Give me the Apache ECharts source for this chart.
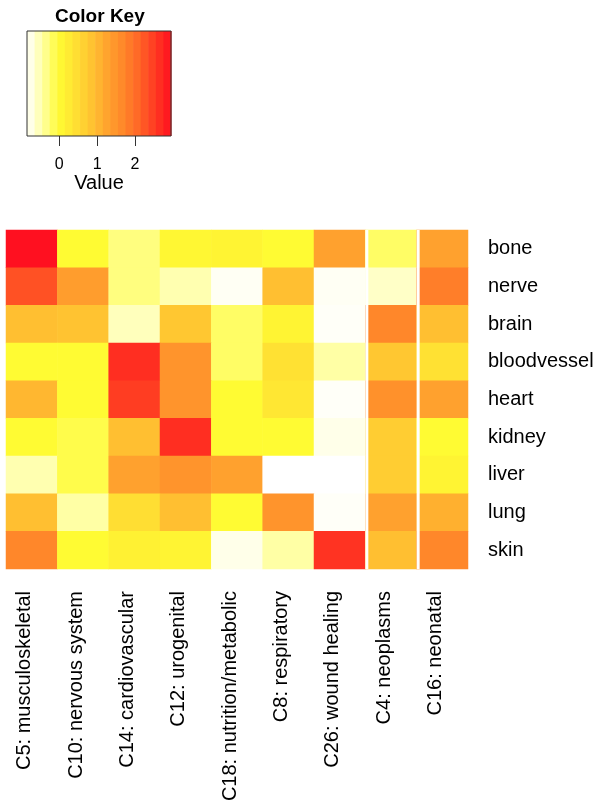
<!DOCTYPE html>
<html>
<head>
<meta charset="utf-8">
<script src="https://cdn.jsdelivr.net/npm/echarts@6/dist/echarts.min.js"></script>
<style>
html,body{margin:0;padding:0;background:#fff;}
#c{width:601px;height:812px;}
</style>
</head>
<body>
<div id="c"></div>
<script>
var columns = ['C5: musculoskeletal','C10: nervous system','C14: cardiovascular','C12: urogenital','C18: nutrition/metabolic','C8: respiratory','C26: wound healing','C4: neoplasms','C16: neonatal'];
var tissues = ['bone','nerve','brain','bloodvessel','heart','kidney','liver','lung','skin'];
// values per tissue row, in column order
var bone        = [2.95, 0.00, -0.30, 0.05, 0.10, 0.00, 1.30, -0.20, 1.30];
var nerve       = [2.30, 1.35, -0.30, -0.50, -0.80, 0.90, -0.80, -0.60, 1.80];
var brain       = [0.90, 0.85, -0.55, 0.80, -0.20, 0.10, -0.82, 1.70, 0.90];
var bloodvessel = [0.00, 0.00, 2.65, 1.50, -0.20, 0.40, -0.45, 0.80, 0.40];
var heart       = [1.00, 0.00, 2.50, 1.50, 0.00, 0.30, -0.82, 1.55, 1.30];
var kidney      = [0.00, -0.10, 0.90, 2.65, 0.00, 0.00, -0.75, 0.70, 0.00];
var liver       = [-0.50, -0.10, 1.30, 1.50, 1.30, -0.85, -0.85, 0.70, 0.10];
var lung        = [0.90, -0.45, 0.45, 0.90, 0.00, 1.50, -0.82, 1.30, 1.10];
var skin        = [1.70, 0.00, 0.15, 0.10, -0.75, -0.45, 2.60, 0.90, 1.70];
var rows = [bone, nerve, brain, bloodvessel, heart, kidney, liver, lung, skin];
var sepColumns = [7, 8];
var keyTicks = [0, 1, 2];
var keyMin = -0.85, keyMax = 2.95;
var keyBreaks = [-0.85,-0.65,-0.45,-0.25,-0.05,0.15,0.35,0.55,0.75,0.95,1.15,1.35,1.55,1.75,1.95,2.15,2.35,2.55,2.75,2.95];
var palette = ['#FFFFFF','#FFFFA0','#FFFB33','#FFE033','#FFC431','#FFA32E','#FF882A','#FF6526','#FF3A22','#FF1020'];

var heatData = [];
rows.forEach(function (r, yi) {
  r.forEach(function (v, xi) { heatData.push([xi, yi, v]); });
});
var keyData = [];
for (var i = 0; i < keyBreaks.length - 1; i++) {
  keyData.push([keyBreaks[i], keyBreaks[i + 1], (keyBreaks[i] + keyBreaks[i + 1]) / 2]);
}

var FONT = 'Liberation Sans, Arial, Helvetica, sans-serif';
var chart = echarts.init(document.getElementById('c'), null, {renderer: 'canvas'});
chart.setOption({
  animation: false,
  backgroundColor: '#fff',
  title: {
    text: 'Color Key', left: 50, top: 2,
    textStyle: {fontFamily: FONT, fontSize: 19, fontWeight: 'bold', color: '#000'}
  },
  grid: [
    {left: 6, top: 230, width: 462, height: 339, containLabel: false},
    {left: 27, top: 31, width: 144, height: 105, show: true, z: 5,
     borderColor: '#333', borderWidth: 1, backgroundColor: 'transparent'}
  ],
  xAxis: [
    {type: 'category', data: columns, gridIndex: 0, position: 'bottom',
     axisLine: {show: false}, axisTick: {show: false}, splitLine: {show: false},
     axisLabel: {rotate: 90, interval: 0, margin: 22, fontSize: 20, fontFamily: FONT, color: '#000',
                 verticalAlign: 'bottom', lineHeight: 14}},
    {type: 'value', gridIndex: 1, min: keyMin, max: keyMax,
     axisLine: {show: false}, splitLine: {show: false},
     axisTick: {show: true, customValues: keyTicks, length: 10, lineStyle: {color: '#333', width: 1}},
     axisLabel: {customValues: keyTicks, margin: 21, fontSize: 16, fontFamily: FONT, color: '#000'},
     name: 'Value', nameLocation: 'middle', nameGap: 36,
     nameTextStyle: {fontSize: 20, fontFamily: FONT, color: '#000'}}
  ],
  yAxis: [
    {type: 'category', data: tissues, gridIndex: 0, inverse: true, position: 'right',
     axisLine: {show: false}, axisTick: {show: false}, splitLine: {show: false},
     axisLabel: {margin: 20, fontSize: 20, fontFamily: FONT, color: '#000'}},
    {type: 'value', gridIndex: 1, min: 0, max: 1, show: false}
  ],
  visualMap: [
    {type: 'continuous', show: false, min: keyMin, max: keyMax, dimension: 2, seriesIndex: 0,
     inRange: {color: palette}},
    {type: 'continuous', show: false, min: keyMin, max: keyMax, dimension: 2, seriesIndex: 1,
     inRange: {color: palette}}
  ],
  series: [
    {type: 'heatmap', xAxisIndex: 0, yAxisIndex: 0, data: heatData,
     itemStyle: {borderWidth: 0}, emphasis: {disabled: true}},
    {type: 'custom', xAxisIndex: 1, yAxisIndex: 1, data: keyData,
     renderItem: function (params, api) {
       var p0 = api.coord([api.value(0), 1]);
       var p1 = api.coord([api.value(1), 0]);
       return {type: 'rect', shape: {x: p0[0], y: p0[1], width: p1[0] - p0[0] + 0.6, height: p1[1] - p0[1]},
               style: {fill: api.visual('color')}};
     }},
    {type: 'custom', xAxisIndex: 0, yAxisIndex: 0, data: sepColumns.map(function (c) { return [c, 0]; }), z: 4,
     renderItem: function (params, api) {
       var cs = params.coordSys;
       var center = api.coord([api.value(0), 0]);
       var bw = api.size([1, 0])[0];
       var x = center[0] - bw / 2;
       return {type: 'rect', shape: {x: x, y: cs.y, width: 3, height: cs.height},
               style: {fill: '#ffffff'}};
     }}
  ]
});
</script>
</body>
</html>
